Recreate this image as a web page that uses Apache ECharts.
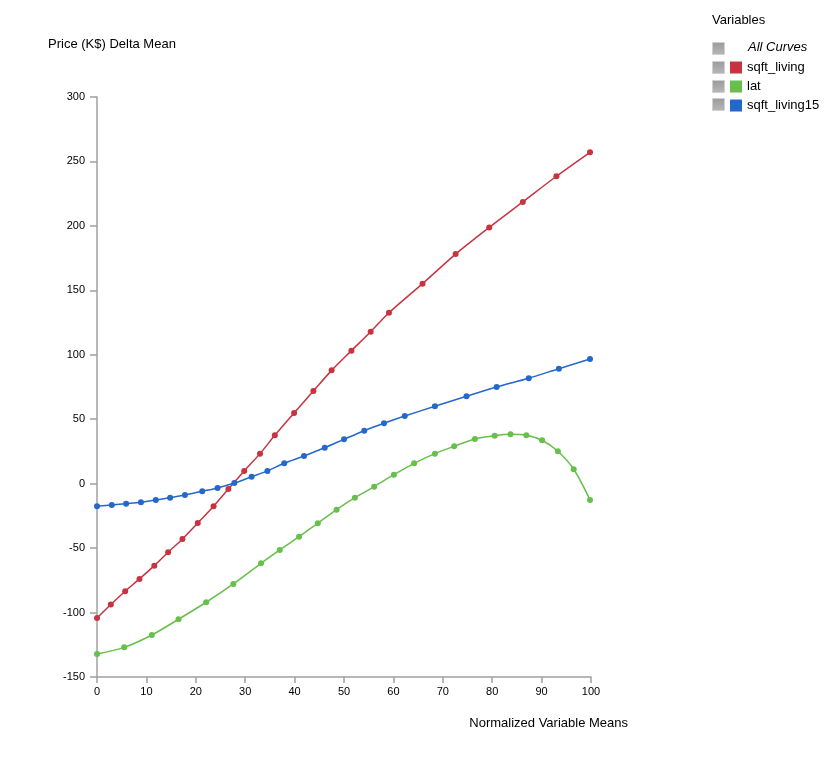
<!DOCTYPE html>
<html>
<head>
<meta charset="utf-8">
<script src="https://cdn.jsdelivr.net/npm/echarts@6/dist/echarts.min.js"></script>
<style>
  html, body { margin: 0; padding: 0; background: #fff; }
  #chart { width: 840px; height: 775px; }
</style>
</head>
<body>
<div id="chart"></div>
<script>
// values, [normalized mean, price delta]
const sqftLiving = [
  [0, -104.2], [2.8, -93.7], [5.7, -83.5], [8.6, -73.9], [11.6, -63.6],
  [14.4, -53.2], [17.3, -42.9], [20.4, -30.5], [23.6, -17.5], [26.6, -4.1],
  [29.8, 9.9], [33.0, 23.3], [36.0, 37.5], [39.9, 54.8], [43.8, 71.9],
  [47.5, 87.9], [51.5, 103.2], [55.4, 117.9], [59.1, 132.6], [65.9, 155.2],
  [72.6, 178.1], [79.4, 198.8], [86.2, 218.6], [93.0, 238.5], [99.8, 257.1]
];
const lat = [
  [0, -132.1], [5.5, -127], [11.1, -117.4], [16.5, -105.2], [22.1, -92],
  [27.6, -77.8], [33.2, -61.8], [37.0, -51.4], [40.9, -41.1], [44.7, -30.7],
  [48.5, -20.2], [52.2, -10.9], [56.1, -2.3], [60.1, 7], [64.2, 15.8],
  [68.4, 23.3], [72.3, 29], [76.5, 34.7], [80.5, 37.2], [83.7, 38.3],
  [86.9, 37.6], [90.1, 33.7], [93.3, 25.1], [96.5, 11.2], [99.8, -12.6]
];
const sqftLiving15 = [
  [0, -17.5], [3.0, -16.5], [5.9, -15.5], [8.9, -14.4], [11.9, -12.6],
  [14.8, -10.9], [17.8, -8.8], [21.3, -5.9], [24.4, -3.3], [27.8, 0.5],
  [31.3, 5.4], [34.5, 9.9], [37.9, 15.8], [41.9, 21.5], [46.1, 27.9],
  [50.0, 34.4], [54.1, 41.1], [58.1, 46.9], [62.3, 52.5], [68.4, 60],
  [74.8, 67.8], [80.9, 75], [87.4, 81.8], [93.5, 89.2], [99.8, 96.7]
];
const seriesNames = ['sqft_living', 'lat', 'sqft_living15'];
const seriesColors = ['#c83340', '#67bf4c', '#2468cc'];

const font = '"Liberation Sans", Arial, Helvetica, sans-serif';

const chart = echarts.init(document.getElementById('chart'));

function makeSeries(name, data, color) {
  return {
    name: name,
    type: 'line',
    data: data,
    smooth: 0.3,
    symbol: 'circle',
    symbolSize: 6,
    lineStyle: { color: color, width: 1.5 },
    itemStyle: { color: color },
    z: 3
  };
}

// checkbox squares in the legend column
const boxRows = [48, 67, 86, 104];
const boxes = boxRows.map(function (cy) {
  return {
    type: 'rect',
    left: 712, top: cy - 6,
    shape: { width: 12, height: 12 },
    style: {
      fill: new echarts.graphic.LinearGradient(0, 0, 0, 1, [
        { offset: 0, color: '#9a9a9a' }, { offset: 1, color: '#b8b8b8' }
      ]),
      stroke: '#d0d0d0', lineWidth: 1
    }
  };
});

const option = {
  animation: false,
  textStyle: { fontFamily: font },
  grid: { left: 97, right: 249, top: 97, bottom: 98, containLabel: false },
  legend: {
    data: seriesNames,
    orient: 'vertical',
    left: 730, top: 61,
    padding: 0,
    itemWidth: 12, itemHeight: 12, itemGap: 6,
    icon: 'rect',
    selectedMode: false,
    textStyle: { fontSize: 13, color: '#000', fontFamily: font, lineHeight: 13 }
  },
  xAxis: {
    type: 'value',
    min: 0, max: 100, interval: 10,
    splitLine: { show: false },
    axisLine: { onZero: false, lineStyle: { color: '#a0a0a0', width: 1.5 } },
    axisTick: { length: 6, lineStyle: { color: '#a0a0a0', width: 1.5 } },
    axisLabel: { color: '#000', fontSize: 11, margin: 9, fontFamily: font }
  },
  yAxis: {
    type: 'value',
    min: -150, max: 300, interval: 50,
    splitLine: { show: false },
    axisLine: { show: true, onZero: false, lineStyle: { color: '#a0a0a0', width: 1.5 } },
    axisTick: { show: true, length: 7, lineStyle: { color: '#a0a0a0', width: 1.5 } },
    axisLabel: { color: '#000', fontSize: 11, margin: 12, fontFamily: font }
  },
  graphic: [
    {
      type: 'text', left: 48, top: 38,
      style: { text: 'Price (K$) Delta Mean', fill: '#000', font: '13px ' + font }
    },
    {
      type: 'text', right: 840 - 628, top: 717,
      style: { text: 'Normalized Variable Means', fill: '#000', font: '13px ' + font }
    },
    {
      type: 'text', left: 712, top: 14,
      style: { text: 'Variables', fill: '#000', font: '13px ' + font }
    },
    {
      type: 'text', left: 748, top: 41,
      style: { text: 'All Curves', fill: '#000', font: 'italic 13px ' + font }
    }
  ].concat(boxes),
  series: [
    makeSeries(seriesNames[0], sqftLiving, seriesColors[0]),
    makeSeries(seriesNames[1], lat, seriesColors[1]),
    makeSeries(seriesNames[2], sqftLiving15, seriesColors[2])
  ]
};

chart.setOption(option);
</script>
</body>
</html>
